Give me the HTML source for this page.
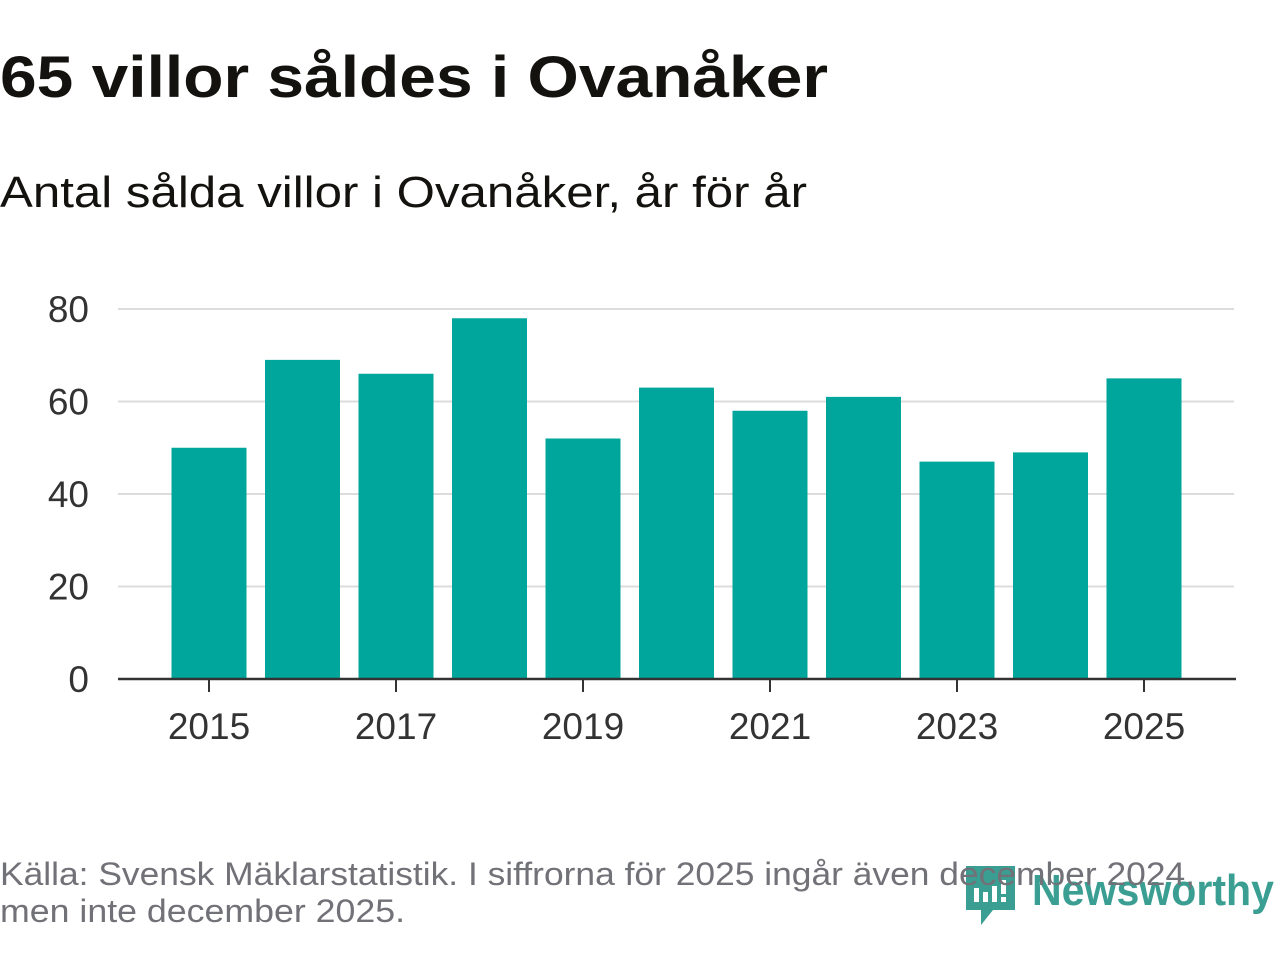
<!DOCTYPE html>
<html><head><meta charset="utf-8"><style>
html,body{margin:0;padding:0;background:#fff;width:1280px;height:960px;overflow:hidden}
svg text{font-family:"Liberation Sans",sans-serif}
</style></head><body>
<svg id="chart" width="1280" height="960">
<text x="0" y="97" font-size="58" font-weight="bold" fill="#13120e" textLength="828" lengthAdjust="spacingAndGlyphs">65 villor såldes i Ovanåker</text>
<text x="0" y="207" font-size="44" fill="#13120e" textLength="807" lengthAdjust="spacingAndGlyphs">Antal sålda villor i Ovanåker, år för år</text>
<g id="grid"></g><g id="bars"></g><g id="axis"></g>
<g>
<path d="M966 866 h49 v44 h-22 l-12 15 v-15 h-15 z" fill="#3a9e92"/>
<rect x="974" y="888" width="5" height="14" fill="#fff"/><rect x="983" y="892" width="5" height="10" fill="#fff"/><rect x="992" y="886" width="5" height="16" fill="#fff"/><rect x="1001" y="880" width="5" height="14" fill="#fff"/><rect x="1001" y="897" width="5" height="5" fill="#fff"/>
<text x="1032" y="905" font-size="44" font-weight="bold" fill="#3a9e92" textLength="242" lengthAdjust="spacingAndGlyphs">Newsworthy</text>
</g>
<text x="0" y="885" font-size="32" fill="#717178" textLength="1195" lengthAdjust="spacingAndGlyphs">Källa: Svensk Mäklarstatistik. I siffrorna för 2025 ingår även december 2024,</text>
<text x="0" y="922" font-size="32" fill="#717178" textLength="405" lengthAdjust="spacingAndGlyphs">men inte december 2025.</text>
</svg>
<script>
const years=[2015,2016,2017,2018,2019,2020,2021,2022,2023,2024,2025];
const values=[50,69,66,78,52,63,58,61,47,49,65];
const yTicks=[0,20,40,60,80];
const xTickLabels=[2015,2017,2019,2021,2023,2025];
const NS="http://www.w3.org/2000/svg";
const y=v=>679-v*4.625;
const x=yr=>209+(yr-2015)*93.5;
function mk(t,a,p){const e=document.createElementNS(NS,t);for(const k in a)e.setAttribute(k,a[k]);document.getElementById(p).appendChild(e);return e;}
yTicks.forEach(t=>{
 if(t>0){const l=mk('line',{x1:118,x2:1234,y1:y(t),y2:y(t),stroke:'#dcdcdc','stroke-width':2},'grid');
 
 }
 const tx=mk('text',{x:89,y:y(t)+13,'font-size':37,fill:'#333','text-anchor':'end'},'axis');tx.textContent=t;
 
 
});
years.forEach((yr,i)=>{
 const r=mk('rect',{x:x(yr)-37.5,y:y(values[i]),width:75,height:679-y(values[i]),fill:'#00a59b'},'bars');
 
 
});
const ax=mk('line',{x1:118,x2:1236,y1:679,y2:679,stroke:'#333','stroke-width':2.5},'axis');


xTickLabels.forEach(yr=>{
 const tk=mk('line',{x1:x(yr),x2:x(yr),y1:679,y2:692,stroke:'#333','stroke-width':2},'axis');
 
 
 const tx=mk('text',{x:x(yr),y:739,'font-size':37,fill:'#333','text-anchor':'middle'},'axis');tx.textContent=yr;
 
 
});
</script>
</body></html>
